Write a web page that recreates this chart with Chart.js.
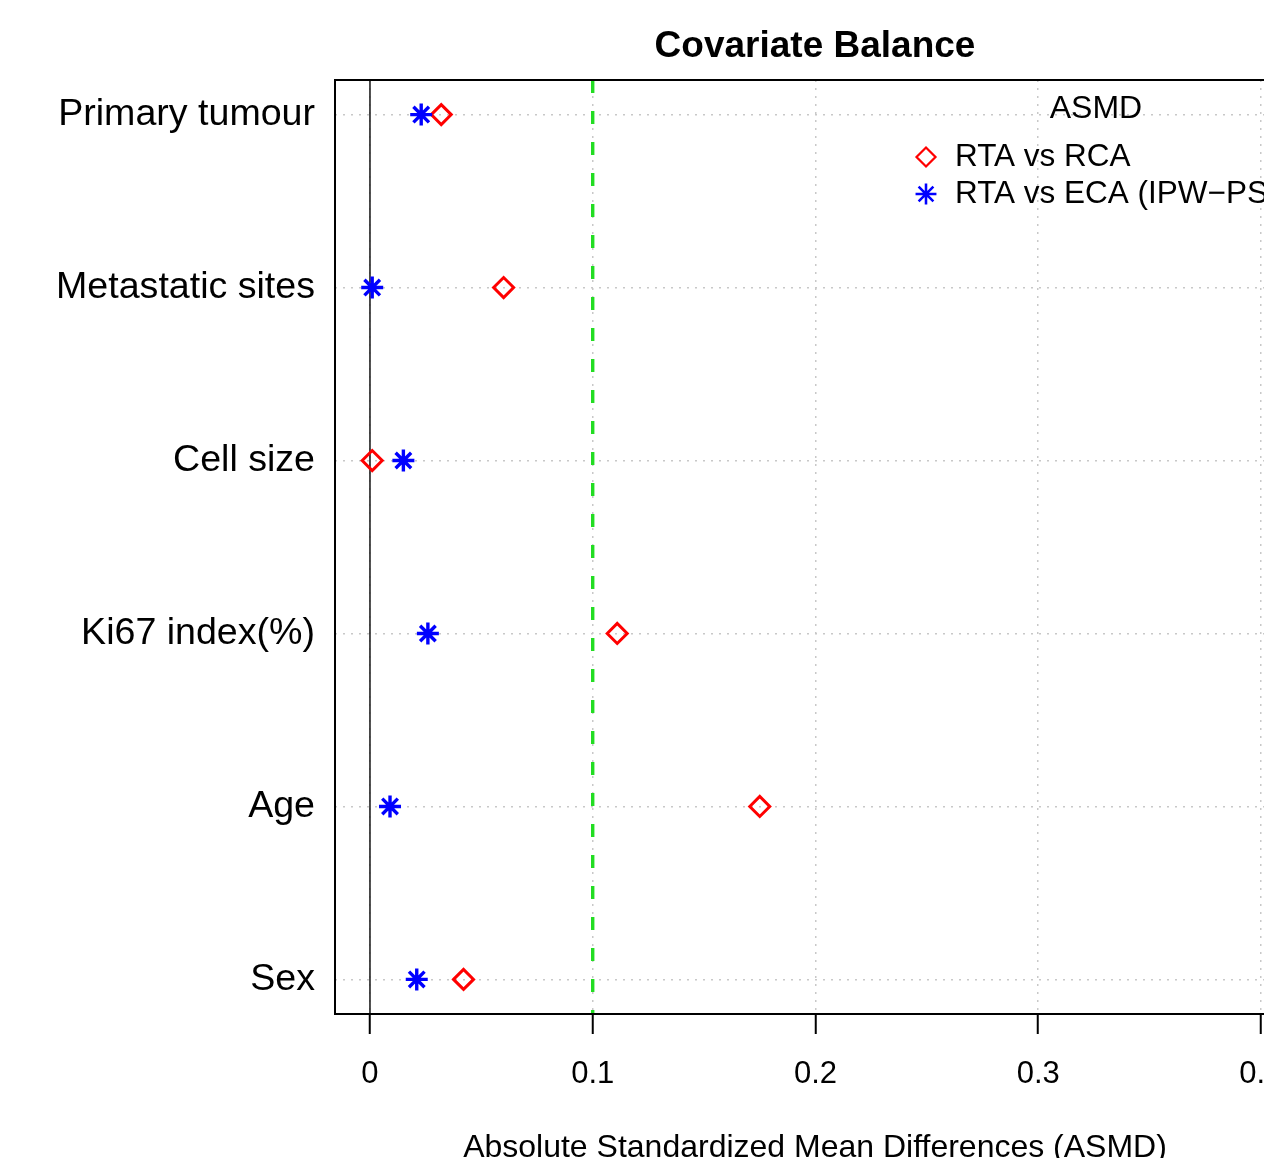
<!DOCTYPE html>
<html>
<head>
    <meta charset="UTF-8">
    <title>Covariate Balance</title>
    <script src="https://cdn.jsdelivr.net/npm/chart.js@4.4.1/dist/chart.umd.min.js"></script>
    <style type="text/css">
        html, body { margin: 0; padding: 0; overflow: hidden; background: #fff; }
        #wrap { width: 1310px; height: 1158px; }
    </style>
</head>
<body>
<div id="wrap">
    <canvas id="balanceChart" width="1310" height="1158"></canvas>
</div>

<script>
    // covariates, listed top to bottom
    const covariates = ['Primary tumour', 'Metastatic sites', 'Cell size', 'Ki67 index(%)', 'Age', 'Sex'];
    // absolute standardized mean differences
    const rtaVsRca = [0.032, 0.060, 0.001, 0.111, 0.175, 0.042];
    const rtaVsEca = [0.023, 0.001, 0.015, 0.026, 0.009, 0.021];
    const seriesLabels = ['RTA vs RCA', 'RTA vs ECA (IPW\u2212PS)'];
    const xTicks = [0, 0.1, 0.2, 0.3, 0.4];
    const zeroLine = 0;
    const threshold = 0.1;
    const xMin = -0.0157, xMax = 0.4153;
    const yMin = 0.8, yMax = 6.2;

    const FONT = "'Liberation Sans', Arial, sans-serif";
    Chart.defaults.font.family = FONT;
    Chart.defaults.color = '#000';

    // box round the plot + legend in the top right corner
    const frameAndLegend = {
        id: 'frameAndLegend',
        afterDatasetsDraw(chart) {
            const ctx = chart.ctx;
            const a = chart.chartArea;
            ctx.save();
            ctx.setLineDash([]);
            ctx.strokeStyle = '#000';
            ctx.lineWidth = 2;
            ctx.strokeRect(a.left, a.top, a.right - a.left, a.bottom - a.top);

            ctx.fillStyle = '#000';
            ctx.font = '32px ' + FONT;
            ctx.textAlign = 'center';
            ctx.textBaseline = 'middle';
            ctx.fillText('ASMD', a.right - 199, a.top + 29);

            ctx.font = '31.5px ' + FONT;
            ctx.textAlign = 'left';
            [0, 1].forEach(function (i) {
                const ds = chart.data.datasets[i];
                const y = a.top + 77 + i * 37;
                ctx.strokeStyle = ds.pointBorderColor;
                ctx.fillStyle = 'rgba(0,0,0,0)';
                ctx.lineWidth = ds.pointBorderWidth * 0.75;
                Chart.helpers.drawPoint(ctx, {
                    pointStyle: ds.pointStyle,
                    radius: ds.pointRadius * 0.95,
                    borderWidth: ds.pointBorderWidth * 0.75,
                    rotation: 0
                }, a.left + 591, y);
                ctx.fillStyle = '#000';
                ctx.fillText(ds.label, a.left + 620, y);
            });
            ctx.restore();
        }
    };

    const ctx = document.getElementById('balanceChart').getContext('2d');
    new Chart(ctx, {
        type: 'scatter',
        data: {
            datasets: [{
                label: seriesLabels[0],
                data: rtaVsRca.map((v, i) => ({ x: v, y: i + 1 })),
                pointStyle: 'rectRot',
                pointRadius: 10,
                pointBorderWidth: 3,
                pointBorderColor: '#ff0000',
                pointBackgroundColor: 'rgba(0,0,0,0)',
                borderColor: '#ff0000',
                order: 1
            }, {
                label: seriesLabels[1],
                data: rtaVsEca.map((v, i) => ({ x: v, y: i + 1 })),
                pointStyle: 'star',
                pointRadius: 11,
                pointBorderWidth: 3.4,
                pointBorderColor: '#0000ff',
                pointBackgroundColor: 'rgba(0,0,0,0)',
                borderColor: '#0000ff',
                order: 0
            }, {
                label: 'zero',
                data: [{ x: zeroLine, y: yMin }, { x: zeroLine, y: yMax }],
                showLine: true,
                borderColor: '#222222',
                borderWidth: 1.6,
                pointRadius: 0,
                order: 5
            }, {
                label: 'threshold',
                data: [{ x: threshold, y: yMin }, { x: threshold, y: yMax }],
                showLine: true,
                borderColor: '#22dd22',
                borderWidth: 3.4,
                borderDash: [13, 18],
                pointRadius: 0,
                order: 4
            }]
        },
        options: {
            responsive: false,
            animation: false,
            events: [],
            layout: { padding: { left: 0, right: 15, top: 0, bottom: 0 } },
            plugins: {
                legend: { display: false },
                tooltip: { enabled: false },
                title: {
                    display: true,
                    text: 'Covariate Balance',
                    color: '#000',
                    fullSize: false,
                    font: { size: 37, weight: 'bold' },
                    padding: { top: 24.5, bottom: 11.1 }
                }
            },
            scales: {
                x: {
                    type: 'linear',
                    min: xMin,
                    max: xMax,
                    afterBuildTicks: s => { s.ticks = xTicks.map(v => ({ value: v })); },
                    afterFit: s => { s.height = 144; },
                    ticks: {
                        color: '#000',
                        font: { size: 31 },
                        padding: 22,
                        maxRotation: 0,
                        callback: v => String(v)
                    },
                    grid: {
                        color: '#c8c8c8',
                        lineWidth: 1.5,
                        drawTicks: true,
                        tickLength: 20,
                        tickColor: '#000',
                        tickWidth: 2
                    },
                    border: { display: false, dash: [2, 6] },
                    title: {
                        display: true,
                        text: 'Absolute Standardized Mean Differences (ASMD)',
                        color: '#000',
                        font: { size: 32 },
                        padding: { top: 0, bottom: -9 }
                    }
                },
                y: {
                    type: 'linear',
                    reverse: true,
                    min: yMin,
                    max: yMax,
                    afterBuildTicks: s => { s.ticks = covariates.map((c, i) => ({ value: i + 1 })); },
                    afterFit: s => { s.width = 335; },
                    ticks: {
                        color: '#000',
                        font: { size: 37.6 },
                        padding: 20,
                        autoSkip: false,
                        callback: v => covariates[v - 1]
                    },
                    grid: {
                        color: '#c8c8c8',
                        lineWidth: 1.5,
                        drawTicks: false
                    },
                    border: { display: false, dash: [2, 6] }
                }
            }
        },
        plugins: [frameAndLegend]
    });
</script>
</body>
</html>
